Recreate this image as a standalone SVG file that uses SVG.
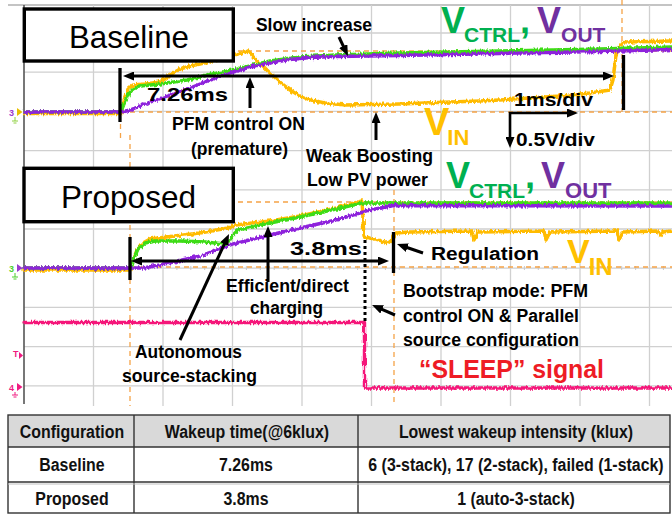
<svg xmlns="http://www.w3.org/2000/svg" width="672" height="514" viewBox="0 0 672 514">
  <defs>
    <style>
      .grid { stroke: #d0d0d0; stroke-width: 1.3; fill: none; }
      .ref { stroke: #f5a347; stroke-width: 1.3; stroke-dasharray: 5 4; fill: none; }
      .tr { fill: none; stroke-width: 3.4; stroke-linejoin: round; stroke-linecap: round; }
      .blk { stroke: #000; stroke-width: 3; fill: none; }
      .bar { stroke: #000; stroke-width: 3.3; fill: none; }
      .box { fill: #fff; stroke: #000; stroke-width: 3.4; }
      .ttl { font-family: "Liberation Sans", Arial, sans-serif; font-size: 32px; fill: #000; }
      .a { font-family: "Liberation Sans", Arial, sans-serif; font-weight: bold; font-size: 18px; fill: #000; }
      .big { font-family: "Liberation Sans", Arial, sans-serif; font-weight: bold; }
      .g { fill: #00b050; }
      .p { fill: #7030a0; }
      .y { fill: #ffc000; }
      .tbl text { font-family: "Liberation Sans", Arial, sans-serif; font-weight: bold; font-size: 18.5px; fill: #111; text-anchor: middle; }
      .tl { stroke: #333; stroke-width: 1.4; fill: none; }
      .mk { font-family: "Liberation Sans", Arial, sans-serif; font-weight: bold; font-size: 9px; }
    </style>
    <marker id="ah" viewBox="0 0 11 9" markerWidth="11" markerHeight="9" refX="2" refY="4.5" markerUnits="userSpaceOnUse" orient="auto-start-reverse">
      <path d="M0,0 L11,4.5 L0,9 z" fill="#000"/>
    </marker>
    <filter id="jit" filterUnits="userSpaceOnUse" x="0" y="0" width="672" height="410">
      <feTurbulence type="fractalNoise" baseFrequency="0.6 0.12" numOctaves="2" seed="4" result="n"/>
      <feDisplacementMap in="SourceGraphic" in2="n" scale="4.5" xChannelSelector="R" yChannelSelector="G"/>
    </filter>
  </defs>

  <rect width="672" height="514" fill="#fff"/>

  <!-- scope graticule -->
  <g id="graticule">
    <line x1="8" y1="5" x2="672" y2="5" stroke="#b0b0b0" stroke-width="1.3"/>
    <g class="grid">
      <path d="M93.5,5V406 M163,5V406 M232.5,5V406 M302,5V406 M371.5,5V406 M441,5V406 M510.5,5V406 M580,5V406 M649.5,5V406"/>
      <path d="M24,33H672 M24,72.2H672 M24,111.4H672 M24,150.6H672 M24,189.8H672 M24,229H672 M24,268.2H672 M24,307.4H672 M24,346.6H672 M24,385.8H672"/>
    </g>
    <path d="M37.9,266V270 M51.8,266V270 M65.7,266V270 M79.6,266V270 M107.4,266V270 M121.3,266V270 M135.2,266V270 M149.1,266V270 M176.9,266V270 M190.8,266V270 M204.7,266V270 M218.6,266V270 M246.4,266V270 M260.3,266V270 M274.2,266V270 M288.1,266V270 M315.9,266V270 M329.8,266V270 M343.7,266V270 M357.6,266V270 M385.4,266V270 M399.3,266V270 M413.2,266V270 M427.1,266V270 M454.9,266V270 M468.8,266V270 M482.7,266V270 M496.6,266V270 M524.4,266V270 M538.3,266V270 M552.2,266V270 M566.1,266V270 M593.9,266V270 M607.8,266V270 M621.7,266V270 M635.6,266V270 M663.4,266V270" stroke="#c8c8c8" stroke-width="1"/>
    <line x1="24" y1="5" x2="24" y2="404" stroke="#555" stroke-width="1.6"/>
  </g>

  <!-- cursor / reference lines -->
  <g id="cursors" class="ref">
    <path d="M121,112H672"/>
    <path d="M238,51H672"/>
    <path d="M622,0V112"/>
    <path d="M120.5,124V138"/>
    <path d="M130,135V406"/>
    <path d="M238,202H672"/>
    <path d="M130,267H672"/>
    <path d="M394,190V406"/>
  </g>

  <!-- waveforms -->
  <g id="traces" filter="url(#jit)">
    <path class="tr" stroke="#ffbb00" d="M24,113.5 L121,113.5 L124,100 L128,89 L133,85 L145,84 L160,82 L170,75 L180,69 L190,66 L200,64 L215,60 L233,55 L248,51 L251,54 L256,60 L263,66 L270,73 L280,82 L290,90 L300,96 L310,100 L325,103 L345,105 L400,104 L450,102 L480,101 L500,100 L530,98 L560,96 L590,93 L610,90 L613,80 L616,55 L620,45 L626,42 L672,41"/>
    <path class="tr" stroke="#3ddc14" d="M24,112 L121,112 L124,104 L128,95 L133,89 L140,86 L160,84 L187,80 L207,75 L233,70 L250,66 L270,61 L300,57 L336,55 L400,53 L500,51 L600,49 L672,47"/>
    <path class="tr" stroke="#8e22dc" d="M24,112 L121,112 L130,110 L145,104 L165,97 L190,88 L210,80 L230,73 L250,67 L270,63 L290,59.5 L310,57.5 L336,56.5 L400,55.5 L500,53.5 L600,51.5 L672,49.5"/>

    <path class="tr" stroke="#ffbb00" d="M24,270 L130,270 L133,260 L137,250 L143,243 L150,239 L175,236 L200,233 L228,228 L236,225 L270,221 L300,216 L336,208 L362,201 L364,237 L375,239 L388,243 L392,240 L396,233 L410,232 L472,231 L474,240 L478,232 L544,231 L546,240 L550,232 L617,231 L619,240 L623,232 L658,231 L660,236 L663,232 L672,231"/>
    <path class="tr" stroke="#3ddc14" d="M24,268 L131,268 L134,258 L138,249 L145,243 L155,241 L180,241 L205,242 L225,244 L229,241 L233,235 L238,230 L270,223 L300,217 L336,209 L362,203 L400,203 L672,203"/>
    <path class="tr" stroke="#8e22dc" d="M24,268 L143,268 L160,265 L200,256 L233,244 L270,235 L300,228 L336,220 L370,210 L394,205.5 L672,206"/>

    <path class="tr" stroke="#f5187a" d="M24,322.5 L364.5,322.5 L364.5,388 L672,388"/>
  </g>

  <!-- channel markers at the left edge -->
  <g id="markers" class="mk">
    <text x="9" y="116" fill="#9a3ad0">3</text>
    <path d="M17,108 L22.5,112 L17,116 z" fill="#e8c000"/>
    <path d="M15,117V121 M12,121H18 M13.5,123H16.5" stroke="#8fd040" stroke-width="1"/>
    <text x="9" y="272" fill="#4bcf2a">3</text>
    <path d="M17,264 L22.5,268 L17,272 z" fill="#9a3ad0"/>
    <path d="M15,273V277 M12,277H18 M13.5,279H16.5" stroke="#4bcf2a" stroke-width="1"/>
    <text x="13" y="357" fill="#f01a80">T</text>
    <path d="M19,352 L23,355.5 L19,359 z" fill="#f01a80"/>
    <text x="9" y="391" fill="#f01a80">4</text>
    <path d="M17,383 L22.5,387 L17,391 z" fill="#f01a80"/>
    <path d="M15,392V395 M12,395H18 M13.5,397H16.5" stroke="#f01a80" stroke-width="1"/>
  </g>

  <!-- title boxes -->
  <g id="node-baseline">
    <rect class="box" x="24.3" y="9" width="209" height="52"/>
    <text class="ttl" x="69" y="48" textLength="120" lengthAdjust="spacingAndGlyphs">Baseline</text>
  </g>
  <g id="node-proposed">
    <rect class="box" x="24" y="168.3" width="209.3" height="53.4"/>
    <text class="ttl" x="61" y="208" textLength="135" lengthAdjust="spacingAndGlyphs">Proposed</text>
  </g>

  <!-- connectors: timing bars and pointer arrows -->
  <g id="connectors">
    <line class="bar" x1="120" y1="68" x2="120" y2="122"/>
    <line class="bar" x1="623.5" y1="55" x2="623.5" y2="110"/>
    <line class="blk" x1="132" y1="76" x2="605" y2="76" marker-start="url(#ah)" marker-end="url(#ah)"/>
    <line class="blk" x1="250" y1="108" x2="250" y2="86" marker-end="url(#ah)"/>
    <line class="blk" x1="376" y1="140" x2="376" y2="121" marker-end="url(#ah)"/>
    <line class="blk" x1="339" y1="37" x2="344.1" y2="47.9" marker-end="url(#ah)"/>
    <path d="M569,113 L510,113 L510,139" stroke="#000" stroke-width="2.6" fill="none" marker-start="url(#ah)" marker-end="url(#ah)"/>

    <line class="bar" x1="130" y1="237" x2="130" y2="280"/>
    <line class="bar" x1="393.5" y1="232" x2="393.5" y2="273"/>
    <line class="blk" x1="140" y1="261" x2="380" y2="261" marker-start="url(#ah)" marker-end="url(#ah)"/>
    <line x1="365" y1="240" x2="365" y2="323" stroke="#000" stroke-width="3" stroke-dasharray="3 3"/>
    <line class="blk" x1="423" y1="253" x2="405.5" y2="247" marker-end="url(#ah)"/>
    <line class="blk" x1="395" y1="315" x2="380.3" y2="308.6" marker-end="url(#ah)"/>
    <line class="blk" x1="268" y1="282" x2="268" y2="235" marker-end="url(#ah)"/>
    <line class="blk" x1="180" y1="340" x2="225.2" y2="242.2" marker-end="url(#ah)"/>
  </g>

  <!-- annotations -->
  <g id="labels-baseline">
    <text class="a" x="256" y="31" textLength="116" lengthAdjust="spacingAndGlyphs">Slow increase</text>
    <text class="a" x="147" y="101" font-size="25" textLength="81" lengthAdjust="spacingAndGlyphs">7.26ms</text>
    <text class="a" x="172" y="130" textLength="133" lengthAdjust="spacingAndGlyphs">PFM control ON</text>
    <text class="a" x="191" y="155" textLength="97" lengthAdjust="spacingAndGlyphs">(premature)</text>
    <text class="a" x="306" y="162" textLength="127" lengthAdjust="spacingAndGlyphs">Weak Boosting</text>
    <text class="a" x="307" y="186" textLength="121" lengthAdjust="spacingAndGlyphs">Low PV power</text>
    <text class="a" x="514" y="106" font-size="21.5" textLength="79" lengthAdjust="spacingAndGlyphs">1ms/div</text>
    <text class="a" x="516" y="146" font-size="21.5" textLength="79" lengthAdjust="spacingAndGlyphs">0.5V/div</text>
    <text class="big g" x="441" y="33" font-size="36">V<tspan dx="-1" dy="9" font-size="21">CTRL</tspan><tspan dy="-9" font-size="36">,</tspan><tspan class="p" dx="7" font-size="36">V</tspan><tspan class="p" dy="9" font-size="21">OUT</tspan></text>
    <text class="big y" x="424" y="135" font-size="38">V<tspan dx="-2" dy="10" font-size="22">IN</tspan></text>
  </g>

  <g id="labels-proposed">
    <text class="big g" x="446" y="188" font-size="36">V<tspan dx="-1" dy="10" font-size="21">CTRL</tspan><tspan dy="-10" font-size="36">,</tspan><tspan class="p" dx="6" font-size="36">V</tspan><tspan class="p" dy="10" font-size="22">OUT</tspan></text>
    <text class="a" x="290" y="255" font-size="26" textLength="72" lengthAdjust="spacingAndGlyphs">3.8ms</text>
    <text class="a" x="431" y="260" font-size="21" textLength="108" lengthAdjust="spacingAndGlyphs">Regulation</text>
    <text class="big y" x="567" y="263" font-size="34">V<tspan dx="-1" dy="12" font-size="24">IN</tspan></text>
    <text class="a" x="226" y="292" textLength="123" lengthAdjust="spacingAndGlyphs">Efficient/direct</text>
    <text class="a" x="250" y="314" textLength="73" lengthAdjust="spacingAndGlyphs">charging</text>
    <text class="a" x="135" y="358" textLength="107" lengthAdjust="spacingAndGlyphs">Autonomous</text>
    <text class="a" x="122" y="382" textLength="135" lengthAdjust="spacingAndGlyphs">source-stacking</text>
    <text class="a" x="403" y="297" font-size="17" textLength="185" lengthAdjust="spacingAndGlyphs">Bootstrap mode: PFM</text>
    <text class="a" x="403" y="322" font-size="17" textLength="176" lengthAdjust="spacingAndGlyphs">control ON &amp; Parallel</text>
    <text class="a" x="403" y="346" font-size="17" textLength="176" lengthAdjust="spacingAndGlyphs">source configuration</text>
    <text class="big" x="419" y="378" font-size="25" fill="#ee1c25" textLength="185" lengthAdjust="spacingAndGlyphs">“SLEEP” signal</text>
  </g>

  <!-- comparison table -->
  <g id="table" class="tbl">
    <rect x="8" y="415" width="662" height="32" fill="#d9d9d9"/>
    <rect class="tl" x="8" y="415" width="662" height="98"/>
    <path class="tl" d="M8,447H670 M8,482H670 M134,415V513 M358,415V513"/>
    <path d="M8,484H670" stroke="#c0c0c0" stroke-width="1"/>
    <!-- condensed bold lettering: x positions are divided by the 0.86 squeeze -->
    <g transform="scale(0.86,1)">
      <text x="83.7" y="438">Configuration</text>
      <text x="287.2" y="438">Wakeup time(@6klux)</text>
      <text x="600" y="438">Lowest wakeup intensity (klux)</text>
      <text x="83.7" y="471">Baseline</text>
      <text x="286" y="471">7.26ms</text>
      <text x="600" y="471">6 (3-stack), 17 (2-stack), failed (1-stack)</text>
      <text x="83.7" y="505">Proposed</text>
      <text x="286" y="505">3.8ms</text>
      <text x="600" y="505">1 (auto-3-stack)</text>
    </g>
  </g>
</svg>
